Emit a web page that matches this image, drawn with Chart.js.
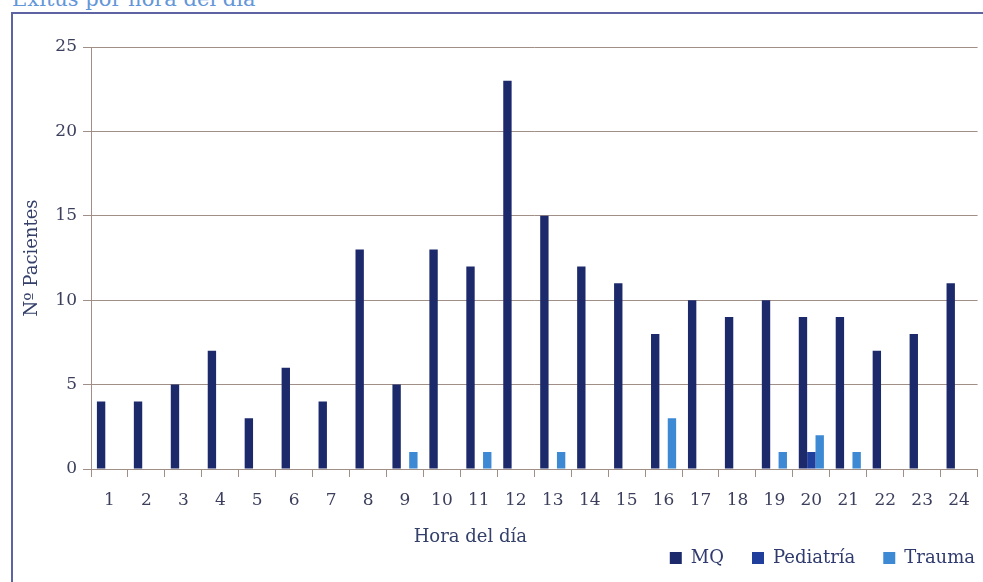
<!DOCTYPE html>
<html>
<head>
<meta charset="utf-8">
<script src="https://cdn.jsdelivr.net/npm/chart.js@4.4.1/dist/chart.umd.min.js"></script>
<style>
  html, body { margin: 0; padding: 0; background: #fff; overflow: hidden; }
  #wrap { position: relative; width: 983px; height: 582px; overflow: hidden; background: #fff; }
  #title { position: absolute; left: 12px; top: -11px; font-family: 'DejaVu Serif', serif; font-size: 21px; line-height: 21px; color: #6396d8; white-space: nowrap; }
  #frame { position: absolute; left: 11px; top: 12px; width: 1000px; height: 620px; border: 2px solid #5d63a3; box-sizing: border-box; }
  #box { position: absolute; left: 0; top: 0; width: 983px; height: 582px; }
</style>
</head>
<body>
<div id="wrap">
  <div id="title">Exitus por hora del día</div>
  <div id="frame"></div>
  <div id="box"><canvas id="hourChart"></canvas></div>
</div>
<script>
// horas del día
const hours = ['1', '2', '3', '4', '5', '6', '7', '8', '9', '10', '11', '12',
               '13', '14', '15', '16', '17', '18', '19', '20', '21', '22', '23', '24'];

// pacientes por servicio
const mq        = [4, 4, 5, 7, 3, 6, 4, 13, 5, 13, 12, 23, 15, 12, 11, 8, 10, 9, 10, 9, 9, 7, 8, 11];
const pediatria = [0, 0, 0, 0, 0, 0, 0, 0, 0, 0, 0, 0, 0, 0, 0, 0, 0, 0, 0, 1, 0, 0, 0, 0];
const trauma    = [0, 0, 0, 0, 0, 0, 0, 0, 1, 0, 1, 0, 1, 0, 0, 3, 0, 0, 1, 2, 1, 0, 0, 0];

const yMax = 25;
const yStep = 5;
const xTitle = 'Hora del día';
const yTitle = 'Nº Pacientes';

const serif = "'DejaVu Serif', serif";
const gridColor = '#a08f86';
const textColor = '#3b3f5c';
const titleColor = '#34406a';

document.addEventListener('DOMContentLoaded', function() {
    initChart();
});

// the x title sits left of the plot centre in the original
const xTitlePlugin = {
    id: 'xTitle',
    afterDraw(chart) {
        const ctx = chart.ctx;
        const area = chart.chartArea;
        ctx.save();
        ctx.font = '18px ' + serif;
        ctx.fillStyle = titleColor;
        ctx.textAlign = 'center';
        ctx.textBaseline = 'alphabetic';
        ctx.fillText(xTitle, (area.left + area.right) / 2 - 64, chart.scales.x.top + 73);
        ctx.restore();
    }
};

// push the legend row closer to the right edge
const legendShift = {
    id: 'legendShift',
    afterLayout(chart) {
        chart.legend.left += 24;
        chart.legend.right += 24;
    }
};

function initChart() {
    const ctx = document.getElementById('hourChart').getContext('2d');
    new Chart(ctx, {
        type: 'bar',
        data: {
            labels: hours,
            datasets: [
                { label: 'MQ', data: mq, backgroundColor: '#1c2a6c' },
                { label: 'Pediatría', data: pediatria, backgroundColor: '#203f9c' },
                { label: 'Trauma', data: trauma, backgroundColor: '#3d89d4' }
            ]
        },
        plugins: [xTitlePlugin, legendShift],
        options: {
            responsive: true,
            maintainAspectRatio: false,
            animation: false,
            layout: { padding: { left: 0, top: 47, right: 4, bottom: 5 } },
            datasets: {
                bar: { categoryPercentage: 0.68, barPercentage: 1.0 }
            },
            plugins: {
                tooltip: { enabled: false },
                legend: {
                    position: 'bottom',
                    align: 'end',
                    labels: {
                        boxWidth: 12,
                        boxHeight: 12,
                        padding: 28,
                        color: '#2f3a6e',
                        font: { family: serif, size: 18 }
                    }
                }
            },
            scales: {
                x: {
                    grid: {
                        offset: true,
                        drawOnChartArea: false,
                        drawTicks: true,
                        tickLength: 8,
                        color: gridColor
                    },
                    border: { color: gridColor, width: 1 },
                    ticks: { color: textColor, padding: 13, font: { family: serif, size: 17 } },
                    afterFit: function(scale) {
                        const leg = scale.chart.legend ? scale.chart.legend.height : 0;
                        scale.height = 582 - 5 - 469 - leg;
                    }
                },
                y: {
                    min: 0,
                    max: yMax,
                    ticks: { stepSize: yStep, color: textColor, padding: 6, font: { family: serif, size: 17 } },
                    grid: { color: gridColor, tickLength: 8 },
                    border: { color: gridColor, width: 1 },
                    title: {
                        display: true,
                        text: yTitle,
                        color: titleColor,
                        padding: { top: 22, bottom: 0 },
                        font: { family: serif, size: 18 }
                    },
                    afterFit: function(scale) {
                        scale.width = 91;
                    }
                }
            }
        }
    });
}
</script>
</body>
</html>
